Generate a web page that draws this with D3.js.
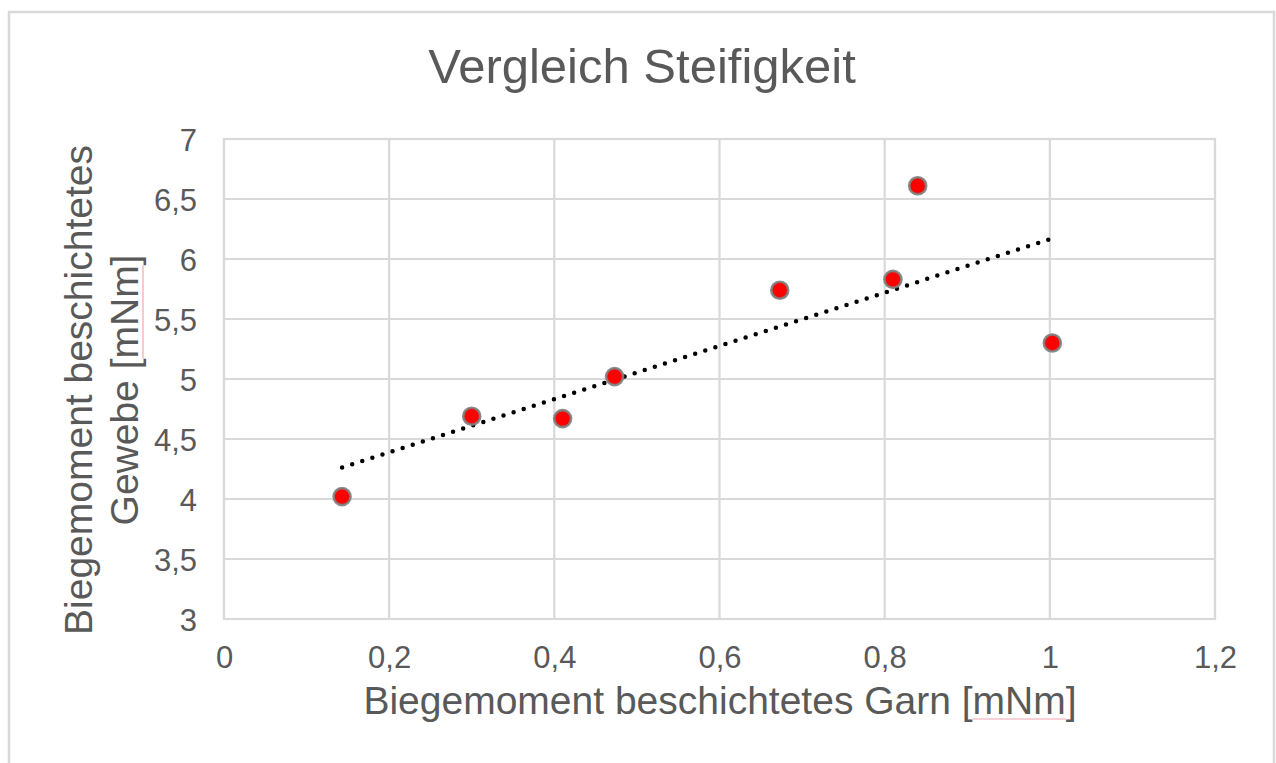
<!DOCTYPE html>
<html>
<head>
<meta charset="utf-8">
<script src="https://cdn.jsdelivr.net/npm/d3@7/dist/d3.min.js"></script>
<style>
  html, body { margin: 0; padding: 0; background: #ffffff; }
  svg { display: block; font-family: "Liberation Sans", Arial, sans-serif; }
</style>
</head>
<body>
<svg id="chart" width="1276" height="763"></svg>
<script>
// ---- data ----
const title = "Vergleich Steifigkeit";
const xLabel = "Biegemoment beschichtetes Garn [mNm]";
const yLabelLines = ["Biegemoment beschichtetes", "Gewebe [mNm]"];
const garnValues   = [0.143, 0.300, 0.410, 0.473, 0.673, 0.810, 0.840, 1.003];
const gewebeValues = [4.02, 4.69, 4.67, 5.02, 5.74, 5.83, 6.61, 5.30];
const xTicks = [0, 0.2, 0.4, 0.6, 0.8, 1, 1.2];
const yTicks = [3, 3.5, 4, 4.5, 5, 5.5, 6, 6.5, 7];

// ---- layout ----
const svg = d3.select("#chart");
const plot = { left: 224, right: 1215, top: 139, bottom: 619 };
const textColor = "#595959";
const gridColor = "#d9d9d9";
const fmt = v => String(v).replace(".", ",");

const x = d3.scaleLinear().domain([0, 1.2]).range([plot.left, plot.right]);
const y = d3.scaleLinear().domain([3, 7]).range([plot.bottom, plot.top]);

// outer chart border (bottom edge cut off by the frame)
svg.append("path")
  .attr("d", `M9,770 L9,12 L1274,12 L1274,770`)
  .attr("fill", "none").attr("stroke", gridColor).attr("stroke-width", 2.5);

// title
svg.append("text")
  .attr("x", 642).attr("y", 83)
  .attr("text-anchor", "middle")
  .attr("font-size", 49).attr("fill", textColor)
  .text(title);

// gridlines
const grid = svg.append("g");
grid.selectAll("line.v").data(xTicks).join("line")
  .attr("x1", d => x(d)).attr("x2", d => x(d))
  .attr("y1", plot.top).attr("y2", plot.bottom)
  .attr("stroke", gridColor).attr("stroke-width", 2.2);
grid.selectAll("line.h").data(yTicks).join("line")
  .attr("y1", d => y(d)).attr("y2", d => y(d))
  .attr("x1", plot.left).attr("x2", plot.right)
  .attr("stroke", gridColor).attr("stroke-width", 2.2);
// plot area border
grid.append("rect")
  .attr("x", plot.left).attr("y", plot.top)
  .attr("width", plot.right - plot.left).attr("height", plot.bottom - plot.top)
  .attr("fill", "none").attr("stroke", gridColor).attr("stroke-width", 2.2);

// x axis tick labels
const xAxis = d3.axisBottom(x).tickValues(xTicks).tickFormat(fmt).tickSize(0).tickPadding(0);
const gx = svg.append("g").attr("transform", `translate(0,${plot.bottom})`).call(xAxis);
gx.select(".domain").remove();
gx.selectAll("text")
  .attr("font-size", 31).attr("fill", textColor)
  .attr("font-family", "Liberation Sans, Arial, sans-serif")
  .attr("dy", null).attr("y", 49);

// y axis tick labels
const yAxis = d3.axisLeft(y).tickValues(yTicks).tickFormat(fmt).tickSize(0).tickPadding(0);
const gy = svg.append("g").attr("transform", `translate(${plot.left},0)`).call(yAxis);
gy.select(".domain").remove();
gy.selectAll("text")
  .attr("font-size", 31).attr("fill", textColor)
  .attr("font-family", "Liberation Sans, Arial, sans-serif")
  .attr("dy", null).attr("y", 11).attr("x", -27);

// helper: spell-check style underline under "mNm"
function underline(textSel, parent) {
  const node = textSel.node();
  const str = node.textContent;
  const i = str.indexOf("mNm");
  if (i < 0) return;
  const s = node.getStartPositionOfChar(i);
  const e = node.getEndPositionOfChar(i + 2);
  parent.append("line")
    .attr("x1", s.x).attr("x2", e.x)
    .attr("y1", s.y + 5).attr("y2", s.y + 5)
    .attr("stroke", "#f4a6b0").attr("stroke-width", 1.2);
}

// x axis title
const xt = svg.append("text")
  .attr("x", 720).attr("y", 714)
  .attr("text-anchor", "middle")
  .attr("font-size", 39).attr("fill", textColor)
  .text(xLabel);
underline(xt, svg);

// y axis title (two lines, rotated)
const yg = svg.append("g").attr("transform", "translate(0,390) rotate(-90)");
yLabelLines.forEach((line, k) => {
  const t = yg.append("text")
    .attr("x", 0).attr("y", 92 + k * 46)
    .attr("text-anchor", "middle")
    .attr("font-size", 39).attr("fill", textColor)
    .text(line);
  underline(t, yg);
});

// linear trendline (least squares of the series)
const n = garnValues.length;
const mx = d3.mean(garnValues), my = d3.mean(gewebeValues);
let sxy = 0, sxx = 0;
for (let i = 0; i < n; i++) {
  sxy += (garnValues[i] - mx) * (gewebeValues[i] - my);
  sxx += (garnValues[i] - mx) ** 2;
}
const slope = sxy / sxx, intercept = my - slope * mx;
const tx = [d3.min(garnValues), 1.0];
svg.append("line")
  .attr("x1", x(tx[0])).attr("y1", y(intercept + slope * tx[0]))
  .attr("x2", x(tx[1])).attr("y2", y(intercept + slope * tx[1]))
  .attr("stroke", "#000").attr("stroke-width", 4.5)
  .attr("stroke-linecap", "round")
  .attr("stroke-dasharray", "0 10.6");

// points
const pts = garnValues.map((v, i) => ({ x: v, y: gewebeValues[i] }));
svg.append("g").selectAll("circle").data(pts).join("circle")
  .attr("cx", d => x(d.x)).attr("cy", d => y(d.y))
  .attr("r", 8.5)
  .attr("fill", "#ff0000")
  .attr("stroke", "#7f7f7f").attr("stroke-width", 2.6)
  .attr("stroke-opacity", 0.9);
</script>
</body>
</html>
